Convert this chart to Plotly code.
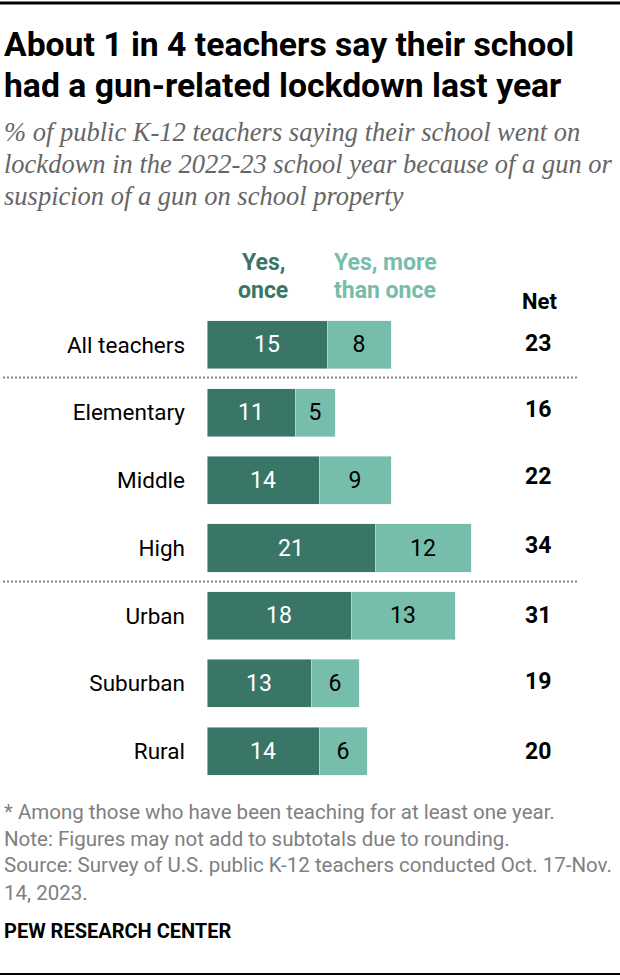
import plotly.graph_objects as go

W, H = 620, 980

# datos
categorias = ["All teachers", "Elementary", "Middle", "High", "Urban", "Suburban", "Rural"]
una_vez = [15, 11, 14, 21, 18, 13, 14]
mas_de_una = [8, 5, 9, 12, 13, 6, 6]
neto = [23, 16, 22, 34, 31, 19, 20]

titulo = ["About 1 in 4 teachers say their school", "had a gun-related lockdown last year"]
subtitulo = [
    "% of public K-12 teachers saying their school went on",
    "lockdown in the 2022-23 school year because of a gun or",
    "suspicion of a gun on school property",
]
notas = [
    "* Among those who have been teaching for at least one year.",
    "Note: Figures may not add to subtotals due to rounding.",
    "Source: Survey of U.S. public K-12 teachers conducted Oct. 17-Nov.",
    "14, 2023.",
]

VERDE = "#3A7668"
VERDE_CLARO = "#76BDAB"
SANS = "Roboto"
SERIF = "Liberation Serif"


def px_x(x):
    return x / W


def px_y(y):
    return 1 - y / H


def texto(x, y, s, size, color="#000000", font=SANS, anchor="left"):
    fig.add_annotation(
        x=px_x(x), y=px_y(y), xref="paper", yref="paper", text=s, showarrow=False,
        xanchor=anchor, yanchor="middle", align=anchor,
        font=dict(family=font, size=size, color=color),
    )


def linea(x0, x1, y, color, width, dash="solid"):
    fig.add_shape(
        type="line", xref="paper", yref="paper",
        x0=px_x(x0), x1=px_x(x1), y0=px_y(y), y1=px_y(y),
        line=dict(color=color, width=width, dash=dash),
    )


fig = go.Figure()
fig.add_bar(
    y=categorias, x=una_vez, orientation="h", name="Yes, once", marker_color=VERDE,
    text=una_vez, textposition="inside", insidetextanchor="middle", textangle=0,
    textfont=dict(family=SANS, size=23, color="#FFFFFF"),
)
fig.add_bar(
    y=categorias, x=mas_de_una, orientation="h", name="Yes, more than once", marker_color=VERDE_CLARO,
    text=mas_de_una, textposition="inside", insidetextanchor="middle", textangle=0,
    textfont=dict(family=SANS, size=23, color="#000000"),
)

fig.update_layout(
    width=W, height=H, barmode="stack", bargap=0.29, showlegend=False,
    margin=dict(l=0, r=0, t=0, b=0), paper_bgcolor="#FFFFFF", plot_bgcolor="#FFFFFF",
    xaxis=dict(domain=[px_x(207), 1], range=[0, 413 / 8], visible=False),
    yaxis=dict(
        domain=[px_y(785), px_y(311)], autorange="reversed", showgrid=False, showline=False,
        ticks="", ticklabelstandoff=21,
        tickfont=dict(family=SANS, size=22.5, color="#000000"),
    ),
)

linea(0, W, 3, "#000000", 3)
linea(0, W, 974, "#000000", 2)
linea(3, 578, 377.5, "#808080", 2, "2px,2px")
linea(3, 578, 581.5, "#808080", 2, "2px,2px")

for s, y in zip(titulo, [45, 85]):
    texto(2, y, "<b>" + s + "</b>", 33.7)
for s, y in zip(subtitulo, [132, 164, 196]):
    texto(2, y, "<i>" + s + "</i>", 26.5, "#666666", SERIF)

texto(263, 262, "<b>Yes,</b>", 23, VERDE, anchor="center")
texto(263, 290, "<b>once</b>", 23, VERDE, anchor="center")
texto(385, 262, "<b>Yes, more</b>", 23, VERDE_CLARO, anchor="center")
texto(385, 290, "<b>than once</b>", 23, VERDE_CLARO, anchor="center")
texto(539, 301, "<b>Net</b>", 22, anchor="center")

for n, y in zip(neto, [343, 409, 477, 545, 615, 681, 751]):
    texto(538, y, "<b>%d</b>" % n, 23, anchor="center")

for s, y in zip(notas, [812, 839, 865, 893]):
    texto(2, y, s, 20.5, "#808080")
texto(2, 931, "<b>PEW RESEARCH CENTER</b>", 20)

fig.write_html("out.html", post_script="document.body.style.margin='0';", config={"displayModeBar": False})
